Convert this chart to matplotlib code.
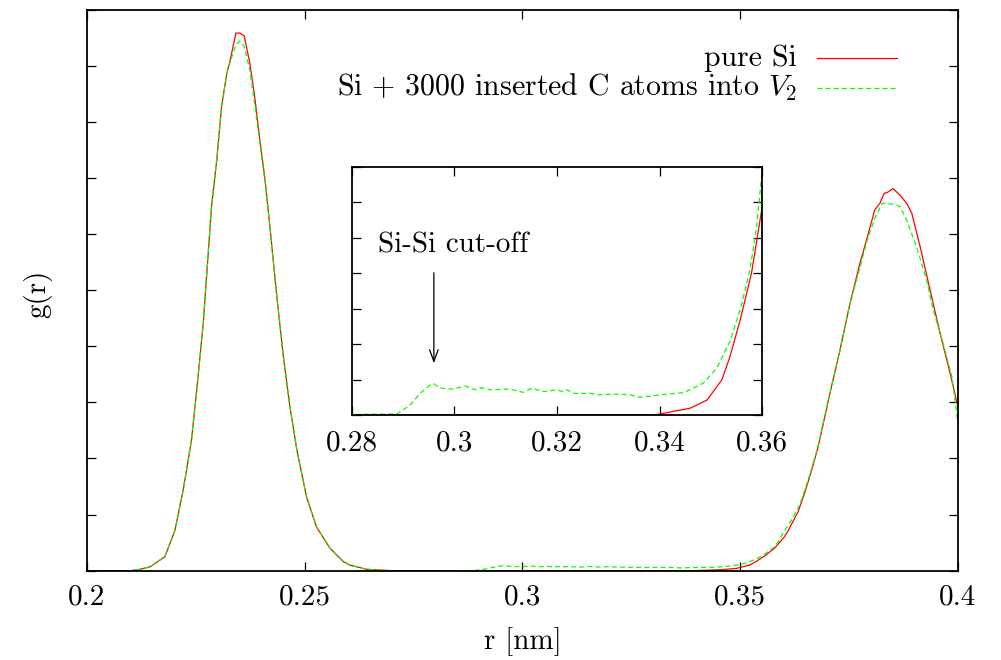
import matplotlib
matplotlib.use('Agg')
import matplotlib.pyplot as plt
from matplotlib.lines import Line2D

# ---------------- data ----------------
r_pure = [0.200, 0.210, 0.2122, 0.2145, 0.2179, 0.2202, 0.2221, 0.2240, 0.2252, 0.2267,
          0.2286, 0.2298, 0.2309, 0.2321, 0.2328, 0.2342, 0.2351, 0.2361, 0.2374, 0.2386,
          0.2397, 0.2409, 0.2420, 0.2436, 0.2451, 0.2466, 0.2482, 0.2504, 0.2527, 0.2558,
          0.2589, 0.2604, 0.2642, 0.2700, 0.3390, 0.3433, 0.3459, 0.3492, 0.3521, 0.3537,
          0.3557, 0.3579, 0.3600, 0.3607, 0.3633, 0.3649, 0.3664, 0.3679, 0.3691, 0.3706,
          0.3729, 0.3752, 0.3775, 0.3790, 0.3809, 0.3821, 0.3830, 0.3840, 0.3851, 0.3867,
          0.3882, 0.3894, 0.3913, 0.3936, 0.3959, 0.3982, 0.4000]
g_pure = [0.0, 0.0, 0.025, 0.07, 0.25, 0.72, 1.44, 2.33, 3.22, 4.41,
          6.49, 7.32, 8.27, 8.86, 9.07, 9.58, 9.58, 9.53, 9.04, 8.39,
          7.67, 6.96, 6.13, 4.88, 3.81, 2.92, 2.15, 1.32, 0.78, 0.40,
          0.16, 0.10, 0.025, 0.0, 0.0, 0.012, 0.019, 0.042, 0.099, 0.165,
          0.269, 0.401, 0.590, 0.67, 1.05, 1.41, 1.79, 2.21, 2.63, 3.16,
          3.93, 4.76, 5.48, 5.89, 6.43, 6.55, 6.72, 6.75, 6.81, 6.69,
          6.55, 6.37, 5.78, 5.00, 4.23, 3.52, 2.92]

r_c = [0.200, 0.210, 0.2122, 0.2145, 0.2179, 0.2202, 0.2221, 0.2240, 0.2252, 0.2267,
       0.2286, 0.2298, 0.2309, 0.2321, 0.2328, 0.2342, 0.2351, 0.2361, 0.2374, 0.2388,
       0.2397, 0.2409, 0.2420, 0.2436, 0.2451, 0.2466, 0.2482, 0.2504, 0.2527, 0.2558,
       0.2589, 0.2604, 0.2642, 0.2700, 0.2888, 0.2914, 0.2933, 0.2953, 0.2960, 0.2972,
       0.2998, 0.3021, 0.3040, 0.3053, 0.3069, 0.3108, 0.3134, 0.3151, 0.3173, 0.3199,
       0.3212, 0.3220, 0.3232, 0.3264, 0.3284, 0.3316, 0.3342, 0.3362, 0.3401, 0.3446,
       0.3466, 0.3485, 0.3511, 0.3537, 0.3557, 0.3576, 0.3589, 0.3600, 0.3614, 0.3637,
       0.3649, 0.3664, 0.3679, 0.3691, 0.3706, 0.3729, 0.3752, 0.3775, 0.3790, 0.3809,
       0.3826, 0.3853, 0.3867, 0.3882, 0.3905, 0.3928, 0.3943, 0.3966, 0.3986, 0.4000]
g_c = [0.0, 0.0, 0.025, 0.07, 0.25, 0.72, 1.44, 2.33, 3.22, 4.41,
       6.49, 7.32, 8.27, 8.86, 9.05, 9.37, 9.44, 9.34, 8.92, 8.15,
       7.60, 6.93, 6.13, 4.88, 3.81, 2.92, 2.15, 1.32, 0.78, 0.40,
       0.16, 0.10, 0.025, 0.0, 0.003, 0.028, 0.061, 0.085, 0.088, 0.076,
       0.073, 0.082, 0.071, 0.077, 0.071, 0.073, 0.064, 0.076, 0.066, 0.071,
       0.066, 0.071, 0.061, 0.061, 0.057, 0.059, 0.057, 0.050, 0.057, 0.063,
       0.076, 0.090, 0.132, 0.208, 0.297, 0.411, 0.533, 0.694, 0.85, 1.18,
       1.45, 1.82, 2.23, 2.65, 3.16, 3.93, 4.76, 5.40, 5.85, 6.28,
       6.55, 6.53, 6.49, 6.25, 5.77, 5.18, 4.65, 4.05, 3.46, 2.63]

series_labels = ['pure Si', r'Si + 3000 inserted C atoms into $V_2$']
x_ticks = [0.2, 0.25, 0.3, 0.35, 0.4]
x_tick_labels = ['0.2', '0.25', '0.3', '0.35', '0.4']
y_ticks = [0, 1, 2, 3, 4, 5, 6, 7, 8, 9, 10]
inset_x_ticks = [0.28, 0.30, 0.32, 0.34, 0.36]
inset_x_tick_labels = ['0.28', '0.3', '0.32', '0.34', '0.36']
inset_y_ticks = [0.0, 0.1, 0.2, 0.3, 0.4, 0.5, 0.6, 0.7]
x_label = 'r [nm]'
y_label = 'g(r)'
annotation_text = 'Si-Si cut-off'
cutoff_r = 0.296

# ---------------- style ----------------
plt.rcParams['font.family'] = ['cmr10']
plt.rcParams['mathtext.fontset'] = 'cm'
plt.rcParams['axes.formatter.use_mathtext'] = True
FS = 21
LEG_FS = 21.5
plt.rcParams['font.size'] = FS

RED = '#ff0000'
GREEN = '#00ff00'
LW = 0.9
DASH = (4.0, 2.5)

fig = plt.figure(figsize=(10.01, 6.60), dpi=100)
ax = fig.add_axes([0.0869, 0.1353, 0.8701, 0.8503])

ax.plot(r_pure, g_pure, color=RED, lw=LW)
ax.plot(r_c, g_c, color=GREEN, lw=LW, dashes=DASH)
ax.set_xlim(0.2, 0.4)
ax.set_ylim(0, 10)
ax.set_xticks(x_ticks)
ax.set_xticklabels(x_tick_labels)
ax.set_yticks(y_ticks)
ax.set_yticklabels([])
ax.tick_params(direction='in', length=6.5, width=0.9, top=True, right=True,
               labelsize=FS, pad=10, colors='black')
for s in ax.spines.values():
    s.set_linewidth(1.3)
ax.set_xlabel(x_label, fontsize=FS, labelpad=12)
ax.set_ylabel(y_label, fontsize=FS, labelpad=15, y=0.494)

# ---------------- legend (gnuplot style: text right-aligned, sample line after) ----------------
def ax_frac(px, py):
    # pixel position in the figure (top-left origin) -> axes fraction
    return (px - 87.0) / 871.0, (570.7 - py) / 561.2

tx, ty1 = ax_frac(797.0, 66.0)
_, ty2 = ax_frac(797.0, 95.5)
ax.text(tx, ty1, series_labels[0], transform=ax.transAxes, ha='right', va='baseline',
        fontsize=LEG_FS)
ax.text(tx, ty2, series_labels[1], transform=ax.transAxes, ha='right', va='baseline',
        fontsize=LEG_FS)
lx0, ly1 = ax_frac(816.7, 58.3)
lx1, ly2 = ax_frac(896.7, 88.3)
ax.add_line(Line2D([lx0, lx1], [ly1, ly1], transform=ax.transAxes, color=RED, lw=LW,
                   clip_on=False))
ax.add_line(Line2D([lx0, lx1], [ly2, ly2], transform=ax.transAxes, color=GREEN, lw=LW,
                   dashes=DASH, clip_on=False))

# ---------------- inset ----------------
ax_in = fig.add_axes([0.3514, 0.3712, 0.4102, 0.3762])
ax_in.plot(r_pure, g_pure, color=RED, lw=LW)
ax_in.plot(r_c, g_c, color=GREEN, lw=LW, dashes=DASH)
ax_in.set_xlim(0.28, 0.36)
ax_in.set_ylim(0, 0.7)
ax_in.set_xticks(inset_x_ticks)
ax_in.set_xticklabels(inset_x_tick_labels)
ax_in.set_yticks(inset_y_ticks)
ax_in.set_yticklabels([])
ax_in.tick_params(direction='in', length=6.5, width=0.9, top=True, right=True,
                  labelsize=FS, pad=11)
for s in ax_in.spines.values():
    s.set_linewidth(1.3)

ax_in.annotate('', xy=(cutoff_r, 0.146), xytext=(cutoff_r, 0.401),
               arrowprops=dict(arrowstyle='->,head_length=0.6,head_width=0.22',
                               lw=0.9, color='black', mutation_scale=14,
                               shrinkA=0, shrinkB=0))
ax_in.text(0.2852, 0.458, annotation_text, fontsize=FS, ha='left', va='baseline')

fig.savefig('out.png', dpi=100)
